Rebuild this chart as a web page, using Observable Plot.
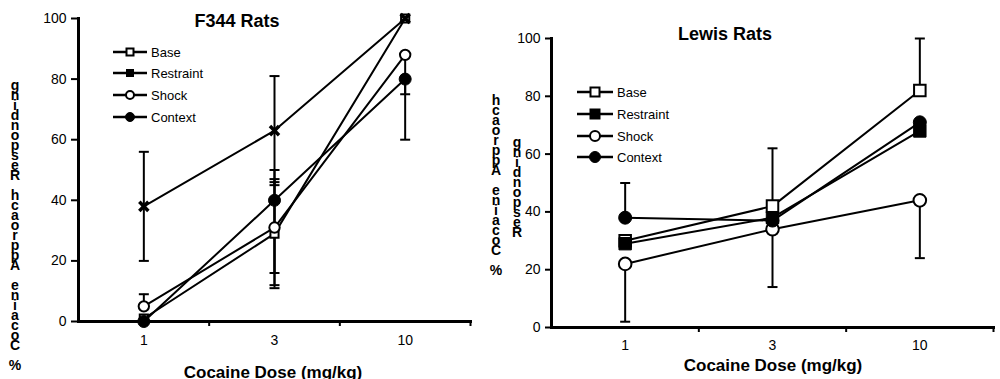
<!DOCTYPE html>
<html><head><meta charset="utf-8">
<script src="https://cdn.jsdelivr.net/npm/d3@7"></script>
<script src="https://cdn.jsdelivr.net/npm/@observablehq/plot@0.6"></script>
<style>
body{margin:0;background:#fff;font-family:"Liberation Sans",Arial,Helvetica,sans-serif;color:#000;}
#wrap{position:relative;width:1000px;height:379px;overflow:hidden;background:#fff;}
.panel{position:absolute;top:0;}
.title{position:absolute;font-weight:bold;font-size:18px;transform:translate(-50%,-50%);white-space:nowrap;}
.xlab{position:absolute;font-weight:bold;font-size:17px;transform:translate(-50%,-50%);white-space:nowrap;}
.ylab{position:absolute;display:flex;flex-direction:column-reverse;align-items:center;font-weight:bold;font-size:14px;line-height:10px;transform:translateX(-50%);}
.ylab span{display:block;height:10px;}
.lrow{position:absolute;display:flex;align-items:center;height:20px;font-size:13px;white-space:nowrap;}
.lrow svg{display:block;margin-right:4px;}
</style></head>
<body><div id="wrap"></div>
<script>
// ---------- data ----------
const doses = ["1", "3", "10"];
const seriesNames = ["Base", "Restraint", "Shock", "Context"];
const yTicks = [0, 20, 40, 60, 80, 100];
const xTitle = "Cocaine Dose (mg/kg)";
const yTitle = "% Cocaine Approach Responding";

// F344 Rats
const f344Base      = [1, 29, 100];
const f344Restraint = [38, 63, 100];
const f344Shock     = [5, 31, 88];
const f344Context   = [0, 40, 80];
const f344BaseHi      = [null, 47, null];
const f344BaseLo      = [null, 11, null];
const f344RestraintHi = [56, 81, null];
const f344RestraintLo = [20, 45, null];
const f344ShockHi     = [9, 46, null];
const f344ShockLo     = [null, 16, 75];
const f344ContextHi   = [null, 50, null];
const f344ContextLo   = [null, 12, 60];

// Lewis Rats
const lewisBase      = [30, 42, 82];
const lewisRestraint = [29, 38, 68];
const lewisShock     = [22, 34, 44];
const lewisContext   = [38, 37, 71];
const lewisBaseHi      = [null, 62, 100];
const lewisBaseLo      = [null, null, null];
const lewisRestraintHi = [null, null, null];
const lewisRestraintLo = [null, null, null];
const lewisShockHi     = [null, null, null];
const lewisShockLo     = [2, 14, 24];
const lewisContextHi   = [50, null, null];
const lewisContextLo   = [null, null, null];

// ---------- helpers ----------
const wrap = document.getElementById("wrap");
const capSymbol = {draw(ctx, size) { const w = Math.sqrt(size / Math.PI); ctx.moveTo(-w, 0); ctx.lineTo(w, 0); }};

function toRows(name, vals, hi, lo) {
  return vals.map((v, i) => ({series: name, i, y: v, hi: hi[i], lo: lo[i]}));
}

function panel(o) {
  const rows = o.series.flatMap(s => toRows(s.name, s.vals, s.hi, s.lo));
  const markerMarks = o.series.map(s => {
    const st = o.styles[s.name];
    return Plot.dot(rows.filter(d => d.series === s.name), {
      x: "i", y: "y", symbol: st.symbol, r: st.r,
      fill: st.fill, stroke: "black", strokeWidth: st.sw
    });
  });
  const hiRows = rows.filter(d => d.hi != null);
  const loRows = rows.filter(d => d.lo != null);
  const chart = Plot.plot({
    width: o.width, height: 379,
    marginLeft: o.mL, marginRight: o.mR, marginTop: o.mT, marginBottom: o.mB,
    style: {fontFamily: '"Liberation Sans", Arial, sans-serif', fontSize: "14px", color: "black", background: "transparent", overflow: "visible"},
    x: {type: "linear", domain: [-0.5, doses.length - 0.5]},
    y: {domain: [0, 100]},
    marks: [
      Plot.axisY({ticks: yTicks, tickSize: o.yTickSize, tickPadding: o.yTickPad, strokeWidth: 2, label: null, fontSize: 14}),
      Plot.axisX({ticks: doses.map((d, i) => i), tickSize: 0, tickPadding: o.xTickPad, tickFormat: i => doses[i], label: null, fontSize: 14}),
      Plot.axisX({ticks: doses.map((d, i) => i + 0.5), tickSize: 5, tickFormat: () => "", label: null, strokeWidth: 2}),
      Plot.line(rows, {x: "i", y: "y", z: "series", stroke: "black", strokeWidth: 2}),
      Plot.ruleX(hiRows, {x: "i", y1: "y", y2: "hi", stroke: "black", strokeWidth: 2}),
      Plot.ruleX(loRows, {x: "i", y1: "y", y2: "lo", stroke: "black", strokeWidth: 2}),
      Plot.dot(hiRows, {x: "i", y: "hi", symbol: capSymbol, r: 5, fill: "none", stroke: "black", strokeWidth: 2}),
      Plot.dot(loRows, {x: "i", y: "lo", symbol: capSymbol, r: 5, fill: "none", stroke: "black", strokeWidth: 2}),
      ...markerMarks,
      Plot.frame({anchor: "left", strokeWidth: 3}),
      Plot.frame({anchor: "bottom", strokeWidth: 3})
    ]
  });
  const div = document.createElement("div");
  div.className = "panel";
  div.style.left = o.left + "px";
  div.appendChild(chart);
  wrap.appendChild(div);
}

function addText(cls, text, x, y) {
  const d = document.createElement("div");
  d.className = cls; d.textContent = text;
  d.style.left = x + "px"; d.style.top = y + "px";
  wrap.appendChild(d);
}

function addYLab(text, x, bottom) {
  const d = document.createElement("div");
  d.className = "ylab";
  d.style.left = x + "px"; d.style.bottom = bottom + "px";
  for (const ch of text) {
    const s = document.createElement("span");
    s.textContent = ch === " " ? "\u00a0" : ch;
    d.appendChild(s);
  }
  wrap.appendChild(d);
}

function legendMarker(svg, st, cx, cy) {
  const ns = "http://www.w3.org/2000/svg";
  let el;
  if (st.shape === "square") {
    el = document.createElementNS(ns, "rect");
    el.setAttribute("x", cx - st.size / 2); el.setAttribute("y", cy - st.size / 2);
    el.setAttribute("width", st.size); el.setAttribute("height", st.size);
  } else {
    el = document.createElementNS(ns, "circle");
    el.setAttribute("cx", cx); el.setAttribute("cy", cy); el.setAttribute("r", st.size / 2);
  }
  el.setAttribute("fill", st.fill); el.setAttribute("stroke", "black"); el.setAttribute("stroke-width", st.sw);
  svg.appendChild(el);
}

function legend(x0, lineW, rowYs, lstyles) {
  const ns = "http://www.w3.org/2000/svg";
  seriesNames.forEach((name, k) => {
    const row = document.createElement("div");
    row.className = "lrow";
    row.style.left = x0 + "px"; row.style.top = (rowYs[k] - 10) + "px";
    const svg = document.createElementNS(ns, "svg");
    svg.setAttribute("width", lineW); svg.setAttribute("height", 20);
    const ln = document.createElementNS(ns, "line");
    ln.setAttribute("x1", 0); ln.setAttribute("x2", lineW); ln.setAttribute("y1", 10); ln.setAttribute("y2", 10);
    ln.setAttribute("stroke", "black"); ln.setAttribute("stroke-width", 2.5);
    svg.appendChild(ln);
    legendMarker(svg, lstyles[name], lineW / 2, 10);
    row.appendChild(svg);
    const t = document.createElement("span"); t.textContent = name;
    row.appendChild(t);
    wrap.appendChild(row);
  });
}

// ---------- F344 panel ----------
panel({
  left: 0, width: 500, mL: 78, mR: 30, mT: 18, mB: 58,
  yTickSize: 7, yTickPad: 5, xTickPad: 14,
  series: [
    {name: "Base", vals: f344Base, hi: f344BaseHi, lo: f344BaseLo},
    {name: "Restraint", vals: f344Restraint, hi: f344RestraintHi, lo: f344RestraintLo},
    {name: "Shock", vals: f344Shock, hi: f344ShockHi, lo: f344ShockLo},
    {name: "Context", vals: f344Context, hi: f344ContextHi, lo: f344ContextLo}
  ],
  styles: {
    Base: {symbol: "square", r: 4.6, fill: "white", sw: 2},
    Restraint: {symbol: "times", r: 4.2, fill: "none", sw: 3.5},
    Shock: {symbol: "circle", r: 5.2, fill: "white", sw: 2},
    Context: {symbol: "circle", r: 6, fill: "black", sw: 1}
  }
});
addText("title", "F344 Rats", 237, 21);
addText("xlab", xTitle, 273, 373);
addYLab(yTitle, 15, 9);
legend(113, 34, [52, 73, 95, 117], {
  Base: {shape: "square", size: 7, fill: "white", sw: 2},
  Restraint: {shape: "square", size: 7, fill: "black", sw: 1},
  Shock: {shape: "circle", size: 8, fill: "white", sw: 2},
  Context: {shape: "circle", size: 9, fill: "black", sw: 1}
});

// ---------- Lewis panel ----------
panel({
  left: 500, width: 500, mL: 51, mR: 7, mT: 38, mB: 52,
  yTickSize: 6, yTickPad: 5, xTickPad: 13,
  series: [
    {name: "Base", vals: lewisBase, hi: lewisBaseHi, lo: lewisBaseLo},
    {name: "Restraint", vals: lewisRestraint, hi: lewisRestraintHi, lo: lewisRestraintLo},
    {name: "Shock", vals: lewisShock, hi: lewisShockHi, lo: lewisShockLo},
    {name: "Context", vals: lewisContext, hi: lewisContextHi, lo: lewisContextLo}
  ],
  styles: {
    Base: {symbol: "square", r: 6.5, fill: "white", sw: 2},
    Restraint: {symbol: "square", r: 7, fill: "black", sw: 1},
    Shock: {symbol: "circle", r: 6.3, fill: "white", sw: 2},
    Context: {symbol: "circle", r: 6.5, fill: "black", sw: 1}
  }
});
addText("title", "Lewis Rats", 725, 34);
addText("xlab", xTitle, 773, 366);
addYLab("% Cocaine Approach", 496, 104);
addYLab("Responding", 517, 142);
legend(577, 36, [92, 114, 136, 157], {
  Base: {shape: "square", size: 9, fill: "white", sw: 2},
  Restraint: {shape: "square", size: 10, fill: "black", sw: 1},
  Shock: {shape: "circle", size: 10, fill: "white", sw: 2},
  Context: {shape: "circle", size: 11, fill: "black", sw: 1}
});
</script>
</body></html>
